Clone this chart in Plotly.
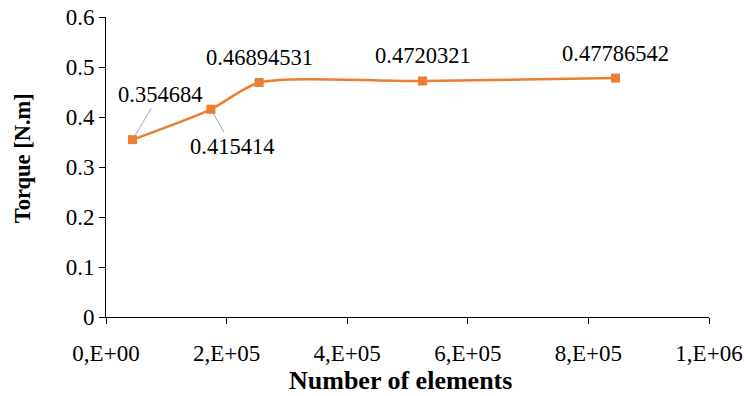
import plotly.graph_objects as go

elements = [44000, 174000, 254000, 525000, 845000]
torque = [0.354684, 0.415414, 0.46894531, 0.4720321, 0.47786542]
labels = ["0.354684", "0.415414", "0.46894531", "0.4720321", "0.47786542"]
x_tickvals = [0, 200000, 400000, 600000, 800000, 1000000]
x_ticktext = ["0,E+00", "2,E+05", "4,E+05", "6,E+05", "8,E+05", "1,E+06"]
y_tickvals = [0, 0.1, 0.2, 0.3, 0.4, 0.5, 0.6]
y_ticktext = ["0", "0.1", "0.2", "0.3", "0.4", "0.5", "0.6"]
x_title = "Number of elements"
y_title = "Torque [N.m]"

orange = "#ED7D31"
font_family = "Liberation Serif"

fig = go.Figure()
fig.add_trace(go.Scatter(
    x=elements, y=torque, mode="lines+markers",
    line=dict(color=orange, width=2.5, shape="spline", smoothing=0.7),
    marker=dict(symbol="square", size=9, color=orange),
    showlegend=False, hoverinfo="skip",
))

# label offsets (pixels): (ax, ay, leader line)
offsets = [(27, -45, True), (21, 37, True), (0, -25, False), (0, -25, False), (0, -25, False)]
for xv, yv, txt, (ax, ay, arrow) in zip(elements, torque, labels, offsets):
    fig.add_annotation(
        x=xv, y=yv, text=txt, showarrow=True,
        ax=ax, ay=ay, arrowhead=0, arrowwidth=1,
        arrowcolor="#A6A6A6" if arrow else "rgba(0,0,0,0)",
        standoff=3 if arrow else 0,
        font=dict(family=font_family, size=22.5, color="#000"),
    )

# axis titles
fig.add_annotation(
    xref="paper", yref="paper", x=0.488, y=-0.21, xanchor="center", yanchor="middle",
    text="<b>" + x_title + "</b>", showarrow=False,
    font=dict(family=font_family, size=26, color="#000"),
)
fig.add_annotation(
    xref="paper", yref="paper", x=-0.139, y=0.53, xanchor="center", yanchor="middle",
    text="<b>" + y_title + "</b>", showarrow=False, textangle=-90,
    font=dict(family=font_family, size=22.5, color="#000"),
)

fig.update_layout(
    width=744, height=396,
    margin=dict(l=106, r=35, t=17, b=79),
    paper_bgcolor="white", plot_bgcolor="white",
    font=dict(family=font_family, color="#000"),
)
fig.update_xaxes(
    range=[0, 1000000], tickvals=x_tickvals, ticktext=x_ticktext,
    showgrid=False, zeroline=False, showline=True, linecolor="#000", linewidth=1,
    ticks="outside", ticklen=6, tickcolor="#000", automargin=False,
    ticklabelstandoff=9, ticklabeloverflow="allow",
    tickfont=dict(family=font_family, size=23),
)
fig.update_yaxes(
    range=[0, 0.6], tickvals=y_tickvals, ticktext=y_ticktext,
    showgrid=False, zeroline=False, showline=True, linecolor="#000", linewidth=1,
    ticks="outside", ticklen=6, tickcolor="#000", automargin=False,
    ticklabeloverflow="allow",
    tickfont=dict(family=font_family, size=23),
)

fig.write_html("out.html", config={"displayModeBar": False},
               post_script="document.body.style.margin='0px';")
